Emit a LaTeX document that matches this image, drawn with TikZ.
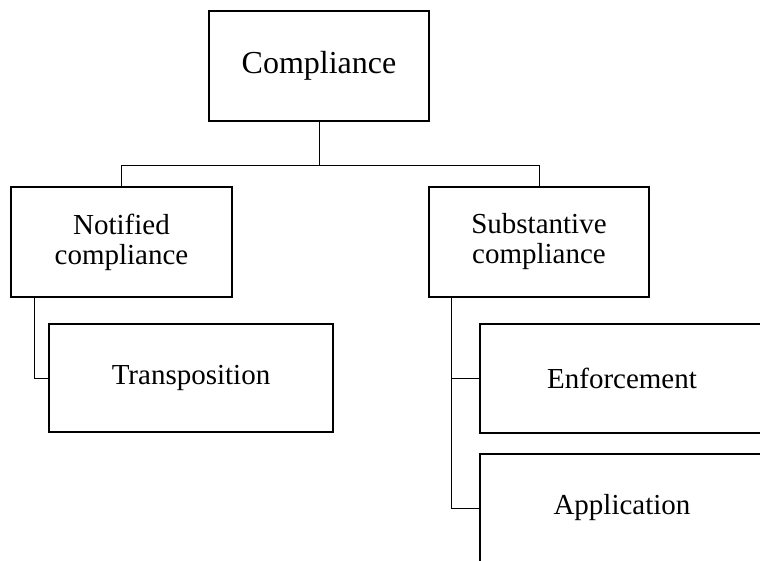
\documentclass[tikz,border=0pt]{standalone}
\usepackage{fontspec}
\setmainfont{Liberation Serif}
\begin{document}
\begin{tikzpicture}[x=1pt,y=-1pt,
  box/.style={draw=black, line width=1.8pt, fill=white, rectangle, anchor=north west, inner sep=0pt, outer sep=0pt, align=center, font=\fontsize{29}{30}\selectfont},
  link/.style={draw=black, line width=0.9pt}]
\useasboundingbox (0,0) rectangle (760,561);
\clip (0,0) rectangle (760,561);
\node[box, minimum width=220pt, minimum height=110pt, font=\fontsize{32}{34}\selectfont] (comp) at (209,11) {Compliance};
\node[box, minimum width=221pt, minimum height=110pt] (notif) at (11,187) {Notified\\compliance};
\node[box, minimum width=220pt, minimum height=110pt] (subst) at (429,187) {Substantive\\compliance};
\node[box, minimum width=284pt, minimum height=108pt] (trans) at (49,324) {Transposition};
\node[box, minimum width=292pt, minimum height=109pt, text width=284pt] (enf) at (480,324) {\hspace*{-8pt}Enforcement};
\node[box, minimum width=292pt, minimum height=108pt, text width=284pt] (app) at (480,454) {\hspace*{-8pt}Application};
\coordinate (bus) at (319,165);
\draw[link] (comp.south) -- (bus);
\draw[link] (bus) -| (notif.north);
\draw[link] (bus) -| (subst.north);
\draw[link] ([xshift=23pt]notif.south west) |- (trans.west);
\draw[link] ([xshift=22pt]subst.south west) |- (enf.west);
\draw[link] ([xshift=22pt]subst.south west) |- (app.west);
\end{tikzpicture}
\end{document}
